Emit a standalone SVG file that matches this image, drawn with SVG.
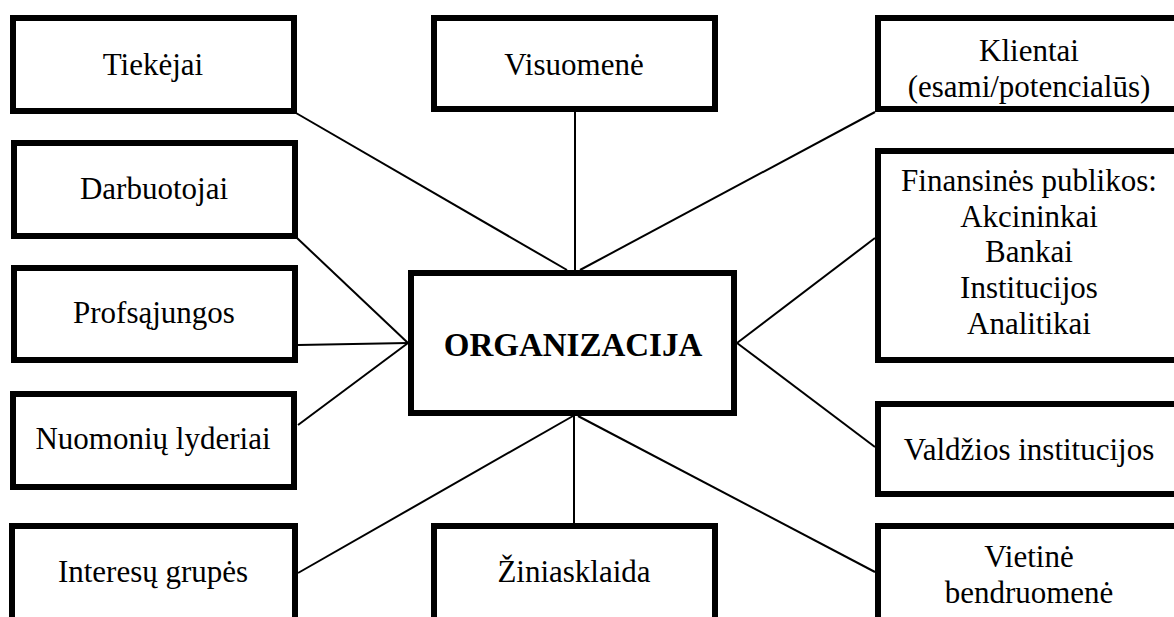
<svg xmlns="http://www.w3.org/2000/svg" width="1174" height="617" viewBox="0 0 1174 617">
<rect width="1174" height="617" fill="#fff"/>
<g id="connectors" stroke="#000" stroke-width="2" fill="none">
<line x1="296" y1="113" x2="567" y2="270"/>
<line x1="575" y1="112" x2="575" y2="270"/>
<line x1="875" y1="112" x2="580" y2="270"/>
<line x1="297" y1="238" x2="408" y2="343"/>
<line x1="298" y1="345" x2="408" y2="343"/>
<line x1="298" y1="425" x2="408" y2="343"/>
<line x1="298" y1="573" x2="573" y2="416"/>
<line x1="574" y1="416" x2="574" y2="523"/>
<line x1="875" y1="572" x2="578" y2="416"/>
<line x1="875" y1="238" x2="737" y2="343"/>
<line x1="875" y1="447" x2="737" y2="343"/>
</g>
<g id="boxes" fill="#fff" stroke="#000" stroke-width="6">
<rect id="tiekejai-box" x="13" y="18" width="281" height="93"/>
<rect id="visuomene-box" x="434" y="18" width="281" height="91"/>
<rect id="klientai-box" x="878" y="18" width="302" height="91"/>
<rect id="darbuotojai-box" x="14" y="143" width="281" height="93"/>
<rect id="profsajungos-box" x="14" y="268" width="281" height="92"/>
<rect id="nuomoniu-box" x="13" y="394" width="281" height="93"/>
<rect id="interesu-box" x="12" y="526" width="283" height="110"/>
<rect id="ziniasklaida-box" x="434" y="526" width="281" height="110"/>
<rect id="vietine-box" x="878" y="526" width="302" height="110"/>
<rect id="finansines-box" x="878" y="151" width="302" height="209"/>
<rect id="valdzios-box" x="878" y="404" width="302" height="90"/>
<rect id="organizacija-box" x="411" y="273" width="323" height="140"/>
</g>
<g id="labels" font-family="Liberation Serif" font-size="31" text-anchor="middle" fill="#000">
<text id="tiekejai" x="153" y="75">Tiekėjai</text>
<text id="visuomene" x="574" y="75">Visuomenė</text>
<g id="klientai"><text x="1029" y="61">Klientai</text><text x="1029" y="97">(esami/potencialūs)</text></g>
<text id="darbuotojai" x="154" y="199">Darbuotojai</text>
<text id="profsajungos" x="154" y="323">Profsąjungos</text>
<text id="nuomoniu" x="153" y="449">Nuomonių lyderiai</text>
<text id="interesu" x="153" y="582">Interesų grupės</text>
<text id="ziniasklaida" x="574" y="582">Žiniasklaida</text>
<g id="vietine"><text x="1029" y="567">Vietinė</text><text x="1029" y="603">bendruomenė</text></g>
<g id="finansines">
<text x="1029" y="191">Finansinės publikos:</text>
<text x="1029" y="227">Akcininkai</text>
<text x="1029" y="262">Bankai</text>
<text x="1029" y="298">Institucijos</text>
<text x="1029" y="334">Analitikai</text></g>
<text id="valdzios" x="1029" y="460">Valdžios institucijos</text>
<text id="organizacija" x="573" y="356" font-size="33" font-weight="bold">ORGANIZACIJA</text>
</g>
</svg>
